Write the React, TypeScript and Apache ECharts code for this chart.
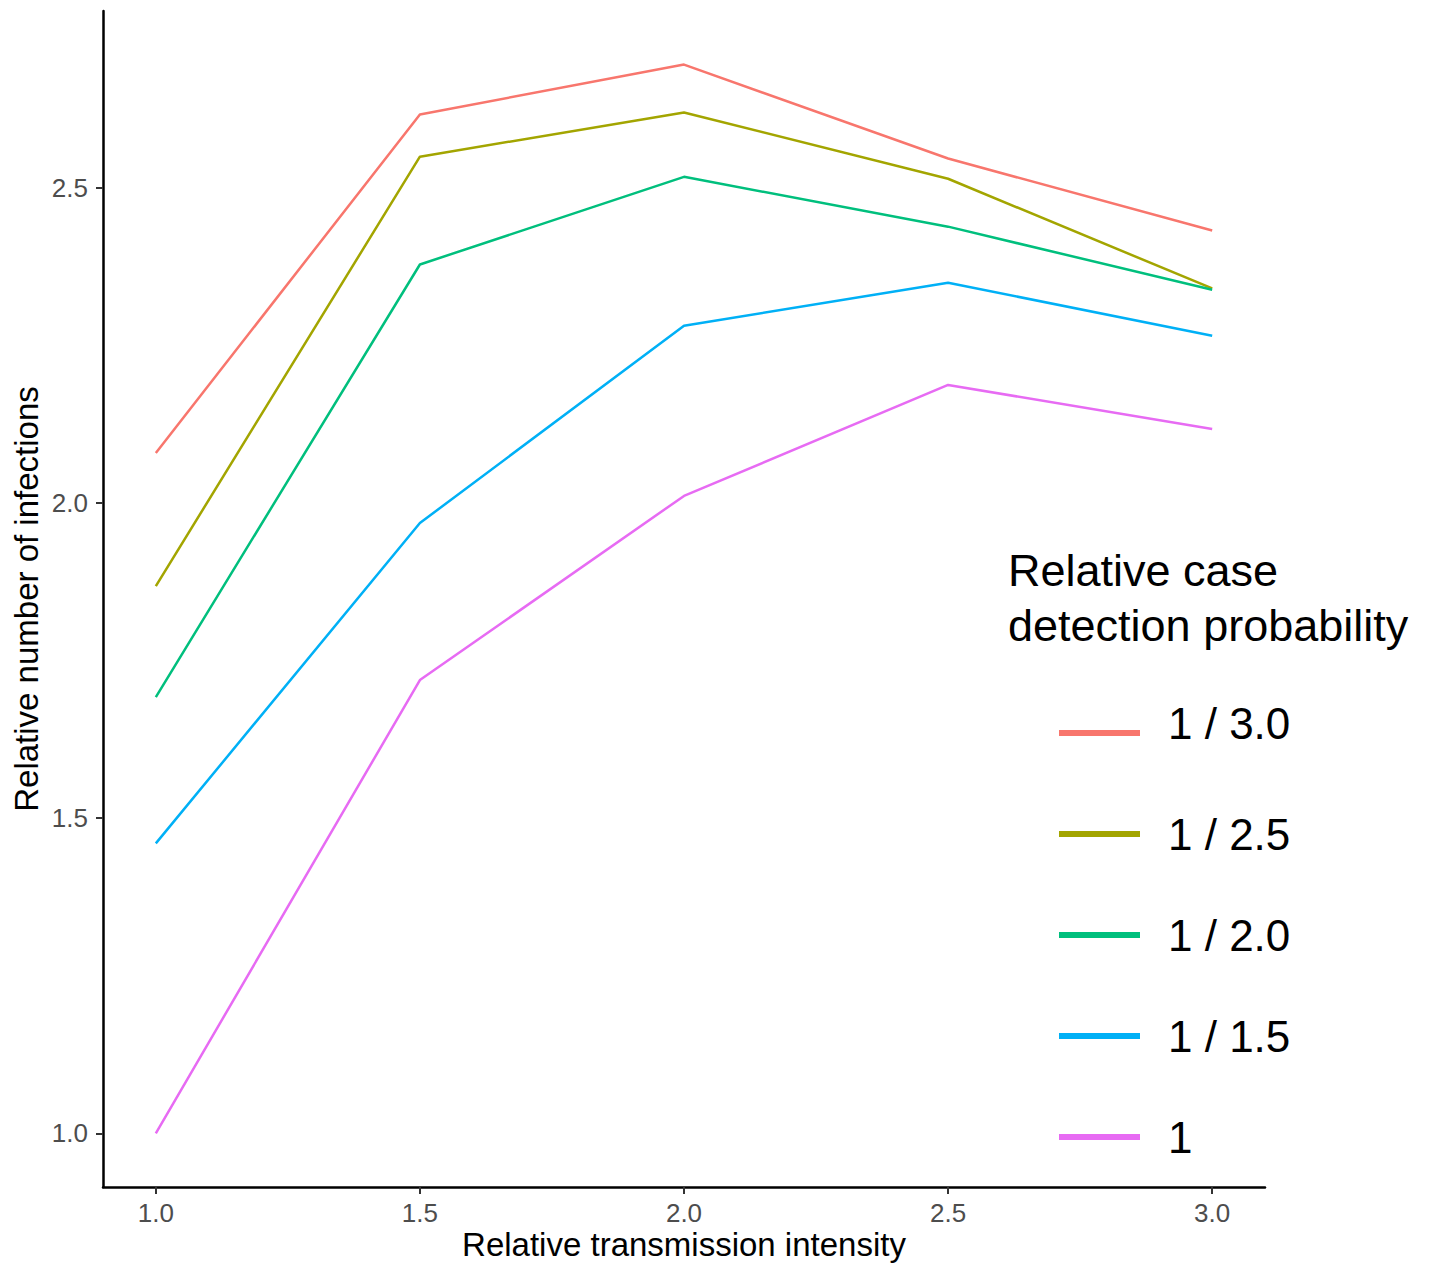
import React, { useEffect, useRef } from "react";
import * as echarts from "echarts";

const xValues = [1.0, 1.5, 2.0, 2.5, 3.0];
const seriesNames = ["1 / 3.0", "1 / 2.5", "1 / 2.0", "1 / 1.5", "1"];
const seriesColors = ["#F8766D", "#A3A500", "#00BF7D", "#00B0F6", "#E76BF3"];
const v30 = [2.079, 2.616, 2.695, 2.546, 2.432];
const v25 = [1.868, 2.549, 2.619, 2.514, 2.34];
const v20 = [1.692, 2.378, 2.517, 2.438, 2.338];
const v15 = [1.46, 1.968, 2.281, 2.349, 2.265];
const v10 = [1.0, 1.719, 2.011, 2.187, 2.117];
const seriesValues = [v30, v25, v20, v15, v10];
const xTicks = [1.0, 1.5, 2.0, 2.5, 3.0];
const yTicks = [1.0, 1.5, 2.0, 2.5];

const FONT = "'Liberation Sans', Arial, Helvetica, sans-serif";

export default function App() {
  const ref = useRef<HTMLDivElement>(null);
  useEffect(() => {
    if (!ref.current) return;
    const chart = echarts.init(ref.current, null, { renderer: "svg" });
    const fmt = (v: number) => v.toFixed(1);
    chart.setOption({
      animation: false,
      backgroundColor: "#FFFFFF",
      textStyle: { fontFamily: FONT },
      grid: { left: 103, right: 164, top: 11, bottom: 77, containLabel: false, outerBoundsMode: "none" },
      xAxis: {
        type: "value",
        min: 0.9,
        max: 3.1,
        name: "Relative transmission intensity",
        nameLocation: "middle",
        nameGap: 41,
        nameMoveOverlap: false,
        nameTextStyle: { fontSize: 33, lineHeight: 33, color: "#000000", fontFamily: FONT },
        axisLine: { show: true, lineStyle: { color: "#000000", width: 2.5 } },
        axisTick: { show: true, length: 7, customValues: xTicks, lineStyle: { color: "#333333", width: 2 } },
        axisLabel: { customValues: xTicks, formatter: fmt, fontSize: 26, lineHeight: 26, color: "#4D4D4D", margin: 13, fontFamily: FONT },
        splitLine: { show: false },
      },
      yAxis: {
        type: "value",
        min: 0.915,
        max: 2.78,
        name: "Relative number of infections",
        nameLocation: "middle",
        nameGap: 60,
        nameRotate: 90,
        nameMoveOverlap: false,
        nameTextStyle: { fontSize: 33, color: "#000000", fontFamily: FONT },
        axisLine: { show: true, lineStyle: { color: "#000000", width: 2.5 } },
        axisTick: { show: true, length: 7, customValues: yTicks, lineStyle: { color: "#333333", width: 2 } },
        axisLabel: { customValues: yTicks, formatter: fmt, fontSize: 26, color: "#4D4D4D", margin: 15, fontFamily: FONT },
        splitLine: { show: false },
      },
      legend: {
        orient: "vertical",
        left: 1059,
        top: 701,
        padding: 0,
        icon: "rect",
        itemWidth: 81,
        itemHeight: 6,
        itemGap: 37,
        data: seriesNames,
        formatter: (name: string) => (name === seriesNames[0] ? `{up|${name}}` : `{n|${name}}`),
        textStyle: {
          fontSize: 44,
          color: "#000000",
          fontFamily: FONT,
          rich: {
            up: { fontSize: 44, lineHeight: 50, padding: [0, 0, 20, 23], color: "#000000", fontFamily: FONT },
            n: { fontSize: 44, lineHeight: 50, padding: [10, 0, 10, 23], color: "#000000", fontFamily: FONT },
          },
        },
      },
      graphic: [
        {
          type: "text",
          left: 1008,
          top: 543,
          style: {
            text: "Relative case\ndetection probability",
            fontSize: 45,
            lineHeight: 55,
            fill: "#000000",
            fontFamily: FONT,
          },
        },
      ],
      series: seriesNames.map((name, i) => ({
        name,
        type: "line",
        data: xValues.map((x, j) => [x, seriesValues[i][j]]),
        showSymbol: false,
        symbol: "none",
        lineStyle: { color: seriesColors[i], width: 2.5 },
        itemStyle: { color: seriesColors[i] },
      })),
    });
    return () => chart.dispose();
  }, []);
  return (
    <div
      ref={ref}
      style={{ position: "absolute", left: 0, top: 0, width: 1429, height: 1264 }}
    />
  );
}
